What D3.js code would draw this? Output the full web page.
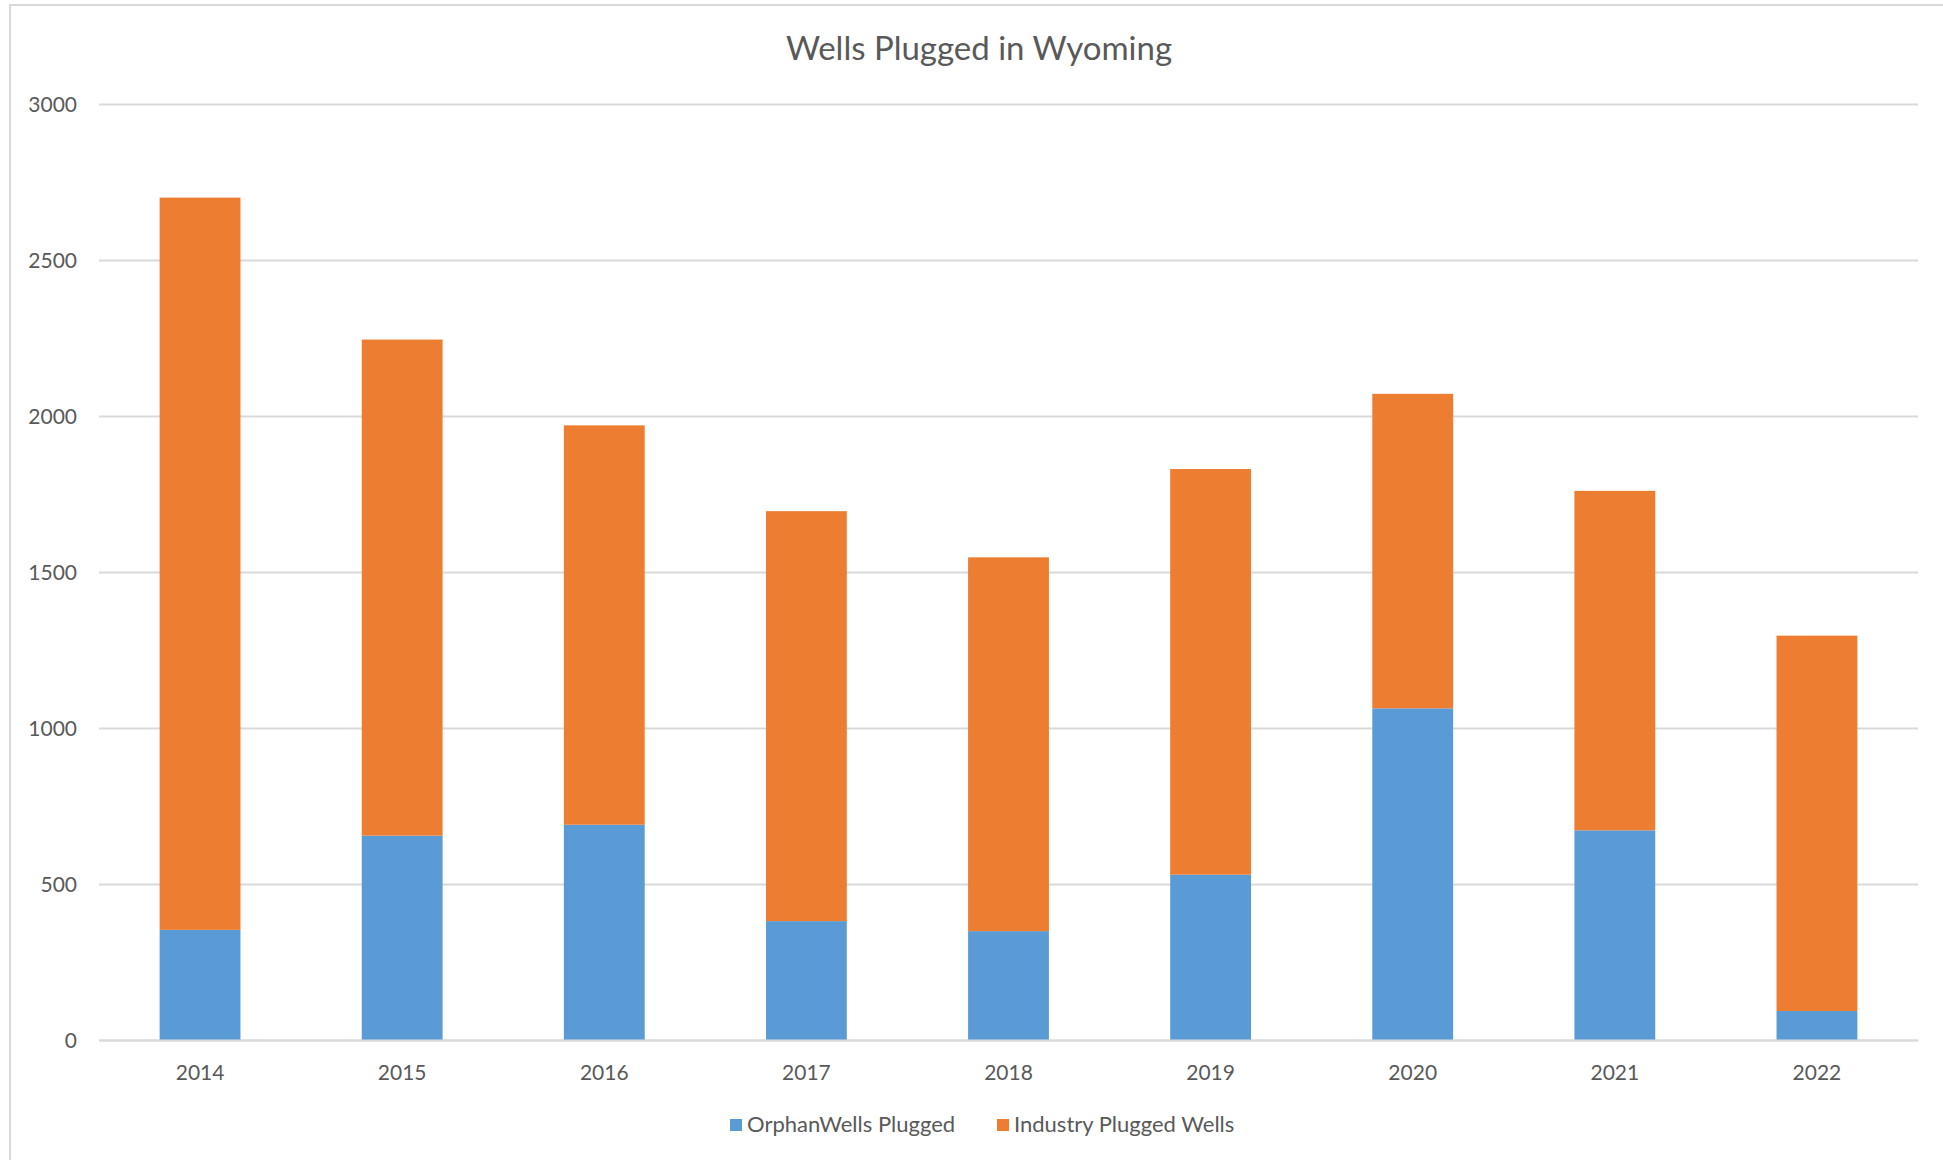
<!DOCTYPE html>
<html>
<head>
<meta charset="utf-8">
<script src="https://cdn.jsdelivr.net/npm/d3@7"></script>
<style>
  body { margin: 0; background: #fff; }
  text { font-family: Lato, "Open Sans", sans-serif; fill: #595959; }
</style>
</head>
<body>
<div class="chart"></div>
<script>
// chart data
var years = ["2014", "2015", "2016", "2017", "2018", "2019", "2020", "2021", "2022"];
var orphanWells = [353, 655, 690, 381, 349, 530, 1063, 672, 93];
var industryWells = [2347, 1590, 1280, 1314, 1198, 1300, 1008, 1088, 1203];
var yTicks = [0, 500, 1000, 1500, 2000, 2500, 3000];
var seriesNames = ["OrphanWells Plugged", "Industry Plugged Wells"];
var seriesColors = ["#5B9BD5", "#ED7D31"];

var svgWidth = 1943;
var svgHeight = 1160;

var margin = {
  top: 104,
  right: 25,
  bottom: 120,
  left: 99
};

var width = svgWidth - margin.left - margin.right;
var height = svgHeight - margin.top - margin.bottom;

var svg = d3
  .select(".chart")
  .append("svg")
  .attr("width", svgWidth)
  .attr("height", svgHeight);

// outer chart frame (only top and left edges are inside the picture)
svg.append("rect")
  .attr("x", 10)
  .attr("y", 5)
  .attr("width", 1960)
  .attr("height", 1200)
  .attr("fill", "none")
  .attr("stroke", "#d9d9d9")
  .attr("stroke-width", 2);

var chartGroup = svg.append("g")
  .attr("transform", `translate(${margin.left}, ${margin.top})`);

// build rows for the stack layout
var rows = years.map(function(y, i) {
  return { year: y, orphan: orphanWells[i], industry: industryWells[i] };
});

var stacked = d3.stack()
  .keys(["orphan", "industry"])(rows);

var xBandScale = d3.scaleBand()
  .domain(years)
  .range([0, width])
  .paddingInner(0.6)
  .paddingOuter(0.3);

var yLinearScale = d3.scaleLinear()
  .domain([0, 3000])
  .range([height, 0]);

// gridlines
var leftAxis = d3.axisLeft(yLinearScale)
  .tickValues(yTicks)
  .tickSize(-width)
  .tickPadding(22)
  .tickFormat(d3.format("d"));

var yAxis = chartGroup.append("g")
  .call(leftAxis);

yAxis.select(".domain").remove();
yAxis.selectAll(".tick line")
  .attr("stroke", "#d9d9d9")
  .attr("stroke-width", 2);
yAxis.selectAll(".tick text")
  .attr("font-size", 21)
  .attr("fill", "#595959")
  .attr("dy", "0.34em");

// stacked bars
chartGroup.selectAll("g.series")
  .data(stacked)
  .enter()
  .append("g")
  .attr("class", "series")
  .attr("fill", (d, i) => seriesColors[i])
  .selectAll("rect")
  .data(d => d)
  .enter()
  .append("rect")
  .attr("x", d => xBandScale(d.data.year))
  .attr("y", d => yLinearScale(d[1]))
  .attr("width", xBandScale.bandwidth())
  .attr("height", d => yLinearScale(d[0]) - yLinearScale(d[1]));

// x axis
var bottomAxis = d3.axisBottom(xBandScale)
  .tickSize(0)
  .tickPadding(25);

var xAxis = chartGroup.append("g")
  .attr("transform", `translate(0, ${height})`)
  .call(bottomAxis);

xAxis.select(".domain")
  .attr("stroke", "#d9d9d9")
  .attr("stroke-width", 2);
xAxis.selectAll(".tick text")
  .attr("font-size", 21)
  .attr("fill", "#595959");

// title
svg.append("text")
  .attr("x", 979)
  .attr("y", 60)
  .attr("text-anchor", "middle")
  .attr("font-size", 33)
  .text("Wells Plugged in Wyoming");

// legend
var legendX = [730, 997];
var legend = svg.append("g");

legend.selectAll("rect")
  .data(seriesNames)
  .enter()
  .append("rect")
  .attr("x", (d, i) => legendX[i])
  .attr("y", 1119)
  .attr("width", 12)
  .attr("height", 12)
  .attr("fill", (d, i) => seriesColors[i]);

legend.selectAll("text")
  .data(seriesNames)
  .enter()
  .append("text")
  .attr("x", (d, i) => legendX[i] + 17)
  .attr("y", 1132)
  .attr("font-size", 22)
  .text(d => d);
</script>
</body>
</html>
